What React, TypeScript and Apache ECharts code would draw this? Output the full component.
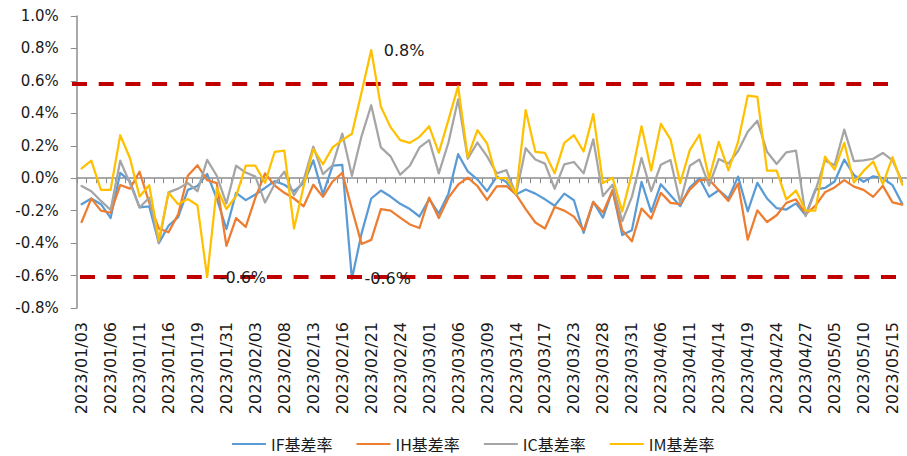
import React, { useEffect, useRef } from 'react';
import * as echarts from 'echarts';

const dates = [
  '2023/01/03','2023/01/04','2023/01/05','2023/01/06','2023/01/09','2023/01/10','2023/01/11','2023/01/12','2023/01/13','2023/01/16',
  '2023/01/17','2023/01/18','2023/01/19','2023/01/20','2023/01/30','2023/01/31','2023/02/01','2023/02/02','2023/02/03','2023/02/06',
  '2023/02/07','2023/02/08','2023/02/09','2023/02/10','2023/02/13','2023/02/14','2023/02/15','2023/02/16','2023/02/17','2023/02/20',
  '2023/02/21','2023/02/22','2023/02/23','2023/02/24','2023/02/27','2023/02/28','2023/03/01','2023/03/02','2023/03/03','2023/03/06',
  '2023/03/07','2023/03/08','2023/03/09','2023/03/10','2023/03/13','2023/03/14','2023/03/15','2023/03/16','2023/03/17','2023/03/20',
  '2023/03/22','2023/03/23','2023/03/24','2023/03/27','2023/03/28','2023/03/29','2023/03/30','2023/03/31','2023/04/03','2023/04/04',
  '2023/04/06','2023/04/07','2023/04/10','2023/04/11','2023/04/12','2023/04/13','2023/04/14','2023/04/17','2023/04/18','2023/04/19',
  '2023/04/20','2023/04/21','2023/04/24','2023/04/25','2023/04/26','2023/04/27','2023/04/28','2023/05/04','2023/05/05','2023/05/08',
  '2023/05/09','2023/05/10','2023/05/11','2023/05/12','2023/05/15','2023/05/16'
];

const ifBasis = [
  -0.16, -0.125, -0.16, -0.245, 0.033, -0.018, -0.18, -0.173, -0.40, -0.293,
  -0.24, -0.072, -0.048, 0.027, -0.125, -0.313, -0.09, -0.135, -0.1, -0.06,
  -0.018, -0.04, -0.08, -0.03, 0.11, -0.1, 0.077, 0.083, -0.62, -0.34,
  -0.125, -0.076, -0.113, -0.158, -0.19, -0.236, -0.128, -0.218, -0.095, 0.148,
  0.042, -0.007, -0.08, 0.01, -0.023, -0.1, -0.07, -0.095, -0.13, -0.17,
  -0.095, -0.136, -0.337, -0.146, -0.243, -0.074, -0.35, -0.32, -0.023, -0.208,
  -0.037, -0.105, -0.172, -0.058, 0.0, -0.114, -0.074, -0.125, 0.01, -0.204,
  -0.029, -0.125, -0.185, -0.193, -0.155, -0.228, -0.07, -0.06, -0.02, 0.115,
  0.02, -0.022, 0.012, 0.0, -0.043, -0.158
];

const ihBasis = [
  -0.27, -0.126, -0.2, -0.213, -0.042, -0.064, 0.04, -0.15, -0.31, -0.333,
  -0.223, 0.015, 0.08, -0.012, -0.03, -0.417, -0.246, -0.3, -0.12, 0.03,
  -0.045, -0.09, -0.125, -0.173, -0.04, -0.115, -0.02, 0.033, -0.19, -0.405,
  -0.38, -0.19, -0.2, -0.243, -0.285, -0.307, -0.12, -0.245, -0.12, -0.04,
  0.004, -0.048, -0.134, -0.05, -0.048, -0.1, -0.19, -0.273, -0.31, -0.177,
  -0.2, -0.237, -0.321, -0.146, -0.212, -0.074, -0.32, -0.389, -0.187, -0.249,
  -0.09, -0.152, -0.16, -0.07, -0.012, -0.008, -0.074, -0.14, -0.033, -0.379,
  -0.198, -0.27, -0.228, -0.152, -0.13, -0.222, -0.17, -0.087, -0.057, -0.012,
  -0.052, -0.072, -0.115, -0.047, -0.149, -0.163
];

const icBasis = [
  -0.048, -0.08, -0.14, -0.195, 0.108, -0.03, -0.18, -0.12, -0.40, -0.087,
  -0.064, -0.03, -0.08, 0.113, 0.015, -0.156, 0.077, 0.035, 0.01, -0.15,
  -0.035, 0.04, -0.105, -0.01, 0.195, 0.025, 0.08, 0.275, 0.015, 0.26,
  0.45, 0.19, 0.135, 0.022, 0.077, 0.19, 0.235, 0.03, 0.22, 0.486,
  0.12, 0.22, 0.135, 0.03, 0.05, -0.1, 0.185, 0.115, 0.09, -0.065,
  0.085, 0.1, 0.03, 0.24, -0.11, -0.04, -0.265, -0.115, 0.125, -0.08,
  0.083, 0.112, -0.15, 0.077, 0.115, -0.046, 0.118, 0.09, 0.168, 0.286,
  0.354, 0.163, 0.088, 0.16, 0.17, -0.233, -0.08, 0.11, 0.08, 0.3,
  0.105, 0.11, 0.12, 0.156, 0.11, -0.02
];

const imBasis = [
  0.06, 0.108, -0.072, -0.072, 0.265, 0.125, -0.113, -0.043, -0.38, -0.089,
  -0.16, -0.128, -0.167, -0.61, -0.06, -0.19, -0.11, 0.077, 0.077, -0.028,
  0.163, 0.17, -0.31, -0.05, 0.18, 0.086, 0.19, 0.235, 0.274, 0.53,
  0.79, 0.44, 0.315, 0.235, 0.218, 0.255, 0.32, 0.158, 0.36, 0.566,
  0.13, 0.296, 0.214, 0.0, 0.0, -0.095, 0.42, 0.163, 0.156, 0.03,
  0.218, 0.265, 0.165, 0.395, -0.03, 0.003, -0.205, 0.03, 0.32, 0.047,
  0.335, 0.24, -0.031, 0.173, 0.268, 0.0, 0.224, 0.048, 0.224, 0.509,
  0.502, 0.047, 0.047, -0.13, -0.076, -0.2, -0.2, 0.133, 0.053, 0.218,
  -0.026, 0.045, 0.103, -0.036, 0.13, -0.04
];

const seriesNames = ['IF基差率', 'IH基差率', 'IC基差率', 'IM基差率'];
const seriesColors = ['#5B9BD5', '#ED7D31', '#A5A5A5', '#FFC000'];
const bandValues = [0.58, -0.605];
const annotationIF = [{ index: 28, text: '-0.6%' }];
const annotationIM = [{ index: 30, text: '0.8%' }, { index: 13, text: '-0.6%' }];

const TEXT = '#1a1a1a';
const AXIS = '#8c8c8c';

export default function App() {
  const ref = useRef<HTMLDivElement>(null);
  useEffect(() => {
    if (!ref.current) return;
    const chart = echarts.init(ref.current, undefined, { renderer: 'svg' });
    const allData = [ifBasis, ihBasis, icBasis, imBasis];

    const annLabel = (text: string) => ({
      show: true,
      position: 'right',
      distance: 12,
      formatter: text,
      color: TEXT,
      fontSize: 16,
      fontFamily: 'DejaVu Sans',
    });

    const markPointFor = (arr: number[], anns: { index: number; text: string }[]) => ({
      silent: true,
      symbol: 'circle',
      symbolSize: 1,
      itemStyle: { color: 'rgba(0,0,0,0)' },
      data: anns.map((a) => ({ coord: [a.index, arr[a.index]], label: annLabel(a.text) })),
    });

    const series: any[] = seriesNames.map((name, i) => ({
      name,
      type: 'line',
      data: allData[i],
      xAxisIndex: 0,
      yAxisIndex: 0,
      symbol: 'none',
      showSymbol: false,
      lineStyle: { width: 2.25, color: seriesColors[i], join: 'round', cap: 'round' },
      itemStyle: { color: seriesColors[i] },
      z: 2 + i,
    }));

    series[0].markPoint = markPointFor(ifBasis, annotationIF);
    series[3].markPoint = markPointFor(imBasis, annotationIM);
    series[3].markLine = {
      silent: true,
      symbol: ['none', 'none'],
      label: { show: false },
      lineStyle: { color: '#C00000', width: 4, type: [15, 11.7], cap: 'butt' },
      emphasis: { disabled: true },
      data: [
        [{ coord: [0, bandValues[0]], x: 72 }, { coord: [dates.length - 1, bandValues[0]], x: 890 }],
        [{ coord: [0, bandValues[1]], x: 80 }, { coord: [dates.length - 1, bandValues[1]], x: 898 }],
      ],
    };

    chart.setOption({
      animation: false,
      backgroundColor: '#ffffff',
      grid: { left: 76.8, top: 16, width: 837, height: 292, containLabel: false },
      legend: {
        data: seriesNames,
        left: 227,
        top: 431,
        icon: 'rect',
        itemWidth: 34,
        itemHeight: 2,
        itemGap: 24,
        textStyle: { fontSize: 16, color: TEXT, fontFamily: 'Noto Sans CJK SC' },
      },
      xAxis: [
        {
          type: 'category',
          data: dates,
          boundaryGap: true,
          position: 'bottom',
          axisLine: { show: true, onZero: true, lineStyle: { color: AXIS, width: 1.5 } },
          axisTick: { show: true, interval: 0, length: 5, alignWithLabel: false, lineStyle: { color: AXIS } },
          axisLabel: { show: false },
          splitLine: { show: false },
        },
        {
          type: 'category',
          data: dates,
          boundaryGap: true,
          position: 'bottom',
          axisLine: { show: false, onZero: false },
          axisTick: { show: false },
          splitLine: { show: false },
          axisLabel: {
            interval: 2,
            rotate: 90,
            margin: 14,
            fontSize: 16,
            color: TEXT,
            fontFamily: 'DejaVu Sans',
          },
        },
      ],
      yAxis: {
        type: 'value',
        min: -0.8,
        max: 1.0,
        interval: 0.2,
        axisLine: { show: true, lineStyle: { color: AXIS, width: 1.5 } },
        axisTick: { show: true, length: 6, lineStyle: { color: AXIS } },
        splitLine: { show: false },
        axisLabel: {
          margin: 18,
          fontSize: 15,
          color: TEXT,
          fontFamily: 'DejaVu Sans',
          formatter: (v: number) => (Math.abs(v) < 1e-9 ? '0.0%' : v.toFixed(1) + '%'),
        },
      },
      series,
    });
    return () => chart.dispose();
  }, []);

  return (
    <div
      ref={ref}
      style={{ position: 'absolute', left: 0, top: 0, width: 907, height: 456, background: '#fff' }}
    />
  );
}
